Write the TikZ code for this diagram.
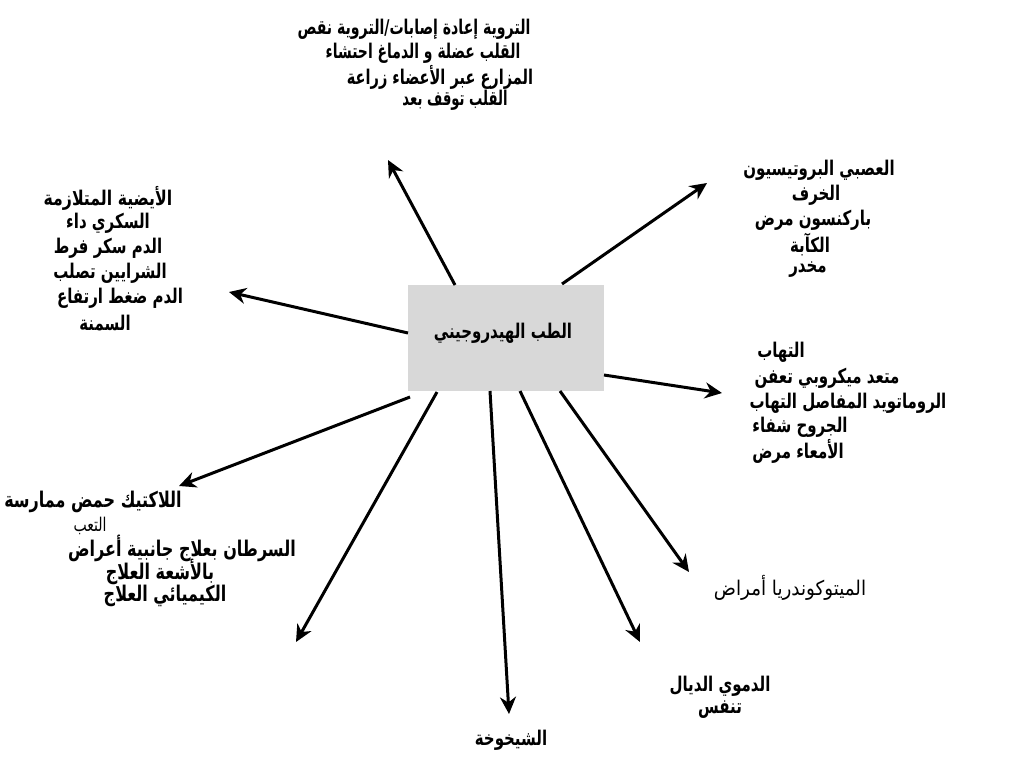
\documentclass[tikz,border=0pt]{standalone}
\usepackage{fontspec}
\TeXXeTstate=1
\newfontfamily\arabicfont[Script=Arabic]{DejaVu Sans}
\usetikzlibrary{arrows.meta}
\definecolor{boxgray}{RGB}{216,216,216}
\newcommand{\artxt}[2][1]{\scalebox{#1}[1.35]{\beginR #2\endR}}
\begin{document}
\begin{tikzpicture}[x=1pt,y=-1pt,
  lbl/.style={font=\arabicfont\bfseries\fontsize{15}{18}\selectfont, inner sep=0pt, anchor=center},
  lblbig/.style={font=\arabicfont\bfseries\fontsize{16}{19}\selectfont, inner sep=0pt, anchor=center},
  lblr/.style={font=\arabicfont\fontsize{15}{18}\selectfont, inner sep=0pt, anchor=center},
  small/.style={font=\arabicfont\fontsize{14}{16}\selectfont, inner sep=0pt, anchor=center},
  arr/.style={line width=3pt, -{Stealth[length=17pt,width=16pt]}},
  hubbox/.style={fill=boxgray, minimum width=196pt, minimum height=106pt, inner sep=0pt}]
\useasboundingbox (0,0) rectangle (1024,769);
\fill[white] (0,0) rectangle (1024,769);

% hub
\node[hubbox] (hub) at (506,338) {};
\node[lbl] (hubt) at (503,333) {\artxt{الطب الهيدروجيني}};

% top group
\node[lbl] (a1) at (414,29) {\artxt[0.94]{التروية إعادة إصابات/التروية نقص}};
\node[lbl] (a2) at (423,53) {\artxt[0.93]{القلب عضلة و الدماغ احتشاء}};
\node[lbl] (a3) at (440,77) {\artxt[0.97]{المزارع عبر الأعضاء زراعة}};
\node[lbl] (a4) at (455,100) {\artxt[0.88]{القلب توقف بعد}};

% top right group
\node[lbl] (b1) at (819,170) {\artxt{العصبي البروتيسيون}};
\node[lbl] (b2) at (816,195) {\artxt{الخرف}};
\node[lbl] (b3) at (813,220) {\artxt{باركنسون مرض}};
\node[lbl] (b4) at (810,245) {\artxt{الكآبة}};
\node[lbl] (b5) at (808,270) {\artxt{مخدر}};

% left group
\node[lbl] (c1) at (108,198) {\artxt[1.05]{الأيضية المتلازمة}};
\node[lbl] (c2) at (108,223) {\artxt{السكري داء}};
\node[lbl] (c3) at (108,248) {\artxt{الدم سكر فرط}};
\node[lbl] (c4) at (110,273) {\artxt{الشرايين تصلب}};
\node[lbl] (c5) at (120,298) {\artxt{الدم ضغط ارتفاع}};
\node[lbl] (c6) at (105,323) {\artxt{السمنة}};

% right middle group
\node[lbl] (d1) at (781,352) {\artxt{التهاب}};
\node[lbl] (d2) at (827,378) {\artxt{متعد ميكروبي تعفن}};
\node[lbl] (d3) at (848,403) {\artxt{الروماتويد المفاصل التهاب}};
\node[lbl] (d4) at (800,427) {\artxt{الجروح شفاء}};
\node[lbl] (d5) at (798,451) {\artxt{الأمعاء مرض}};

% bottom left group
\node[lblbig] (e1) at (93,502) {\artxt[1.0]{اللاكتيك حمض ممارسة}};
\node[small] (e2) at (90,526) {\artxt[1.0]{التعب}};
\node[lblbig] (f1) at (182,548) {\artxt{السرطان بعلاج جانبية أعراض}};
\node[lblbig] (f2) at (160,572) {\artxt{بالأشعة العلاج}};
\node[lblbig] (f3) at (165,596) {\artxt{الكيميائي العلاج}};

% bottom right
\node[lblr] (g1) at (790,588) {\artxt[1.22]{الميتوكوندريا أمراض}};
\node[lbl] (h1) at (720,686) {\artxt{الدموي الديال}};
\node[lbl] (h2) at (720,710) {\artxt{تنفس}};
\node[lbl] (i1) at (511,740) {\artxt{الشيخوخة}};

% arrow end points
\coordinate (s1) at (455,285);  \coordinate (t1) at (388,160);
\coordinate (s2) at (562,284);  \coordinate (t2) at (707,183);
\coordinate (s3) at (408,333);  \coordinate (t3) at (229,292);
\coordinate (s4) at (604,375);  \coordinate (t4) at (722,393);
\coordinate (s5) at (410,397);  \coordinate (t5) at (179,486);
\coordinate (s6) at (437,392);  \coordinate (t6) at (296,642);
\coordinate (s7) at (490,391);  \coordinate (t7) at (509,714);
\coordinate (s8) at (520,391);  \coordinate (t8) at (640,642);
\coordinate (s9) at (560,391);  \coordinate (t9) at (689,572);

\foreach \i in {1,...,9} { \draw[arr] (s\i) -- (t\i); }
\end{tikzpicture}
\end{document}
